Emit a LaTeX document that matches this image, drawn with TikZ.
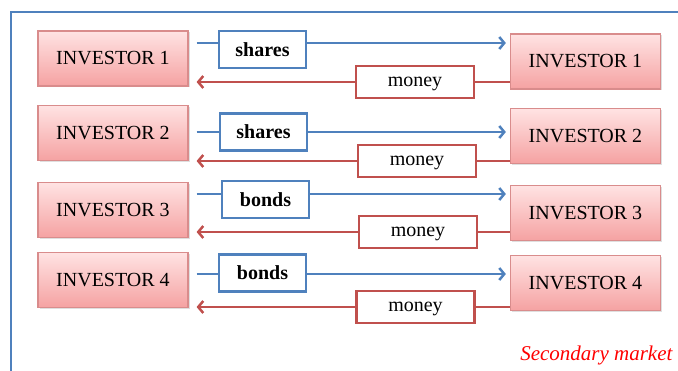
\documentclass[tikz,border=0pt]{standalone}
\usepackage{fontspec}
\setmainfont{Liberation Serif}
\usepackage{xcolor}
\usepackage{tikz}
\usetikzlibrary{arrows.meta,shadows}

\definecolor{tradeblue}{HTML}{4F81BD}
\definecolor{moneyred}{HTML}{C0504D}
\definecolor{pinktop}{HTML}{FFE3E3}
\definecolor{pinkbot}{HTML}{F5A2A2}
\definecolor{pinkedge}{HTML}{D98C8C}

\begin{document}
\begin{tikzpicture}[x=1pt,y=-1pt,>={Straight Barb[length=5pt,width=12pt]},
    investor/.style={draw=pinkedge, line width=1.2pt, top color=pinktop, bottom color=pinkbot,
      minimum width=150pt, minimum height=55pt, inner sep=0pt,
      drop shadow={opacity=0.25, shadow xshift=1.5pt, shadow yshift=-1.5pt},
      font=\fontsize{20}{24}\selectfont},
    tradebox/.style={draw=tradeblue, line width=2.5pt, fill=white, minimum width=87pt,
      minimum height=37pt, inner sep=0pt, font=\bfseries\fontsize{20}{24}\selectfont},
    moneybox/.style={draw=moneyred, line width=2.5pt, fill=white, minimum width=118pt,
      minimum height=32pt, inner sep=0pt, text height=9.2pt, text depth=0pt,
      font=\fontsize{20}{24}\selectfont},
    tradeline/.style={draw=tradeblue, line width=2.5pt},
    moneyline/.style={draw=moneyred, line width=2.5pt}]

  \useasboundingbox (0,0) rectangle (678,371);

  % ── frame ───────────────────────────────────────────────────────────
  \draw[tradeblue, line width=2.5pt] (11,371) -- (11,12) -- (678,12);

  % ── the four pairs of investors, what they swap and what they pay ───
  \foreach \i/\ly/\ry/\by/\my/\what/\wx/\wy/\mx in
      {1/58.5/61.5/43/82/shares/262.5/49.5/415,
       2/133/136/132/161/shares/263.5/132/417,
       3/210/213/194/232/bonds/265.5/199.5/418,
       4/280/283/274/307/bonds/262.5/273/415.5}{
    \node[investor] (L\i) at (113,\ly)   {INVESTOR \i};
    \node[investor] (R\i) at (585.5,\ry) {INVESTOR \i};
    \node[tradebox] (T\i) at (\wx,\wy)   {\what};
    \node[moneybox] (M\i) at (\mx,\my)   {money};

    \draw[tradeline] ([xshift=8pt]L\i.east |- 0,\by) -- (T\i.west |- 0,\by);
    \draw[tradeline,->] (T\i.east |- 0,\by) -- ([xshift=-4pt]R\i.west |- 0,\by);

    \draw[moneyline] (R\i.west |- 0,\my) -- (M\i.east |- 0,\my);
    \draw[moneyline,->] (M\i.west |- 0,\my) -- ([xshift=8pt]L\i.east |- 0,\my);
  }

  % ── caption ─────────────────────────────────────────────────────────
  \node[font=\itshape\fontsize{21}{24}\selectfont, text=red, anchor=east] (cap)
      at (676,355) {Secondary market};

\end{tikzpicture}
\end{document}
